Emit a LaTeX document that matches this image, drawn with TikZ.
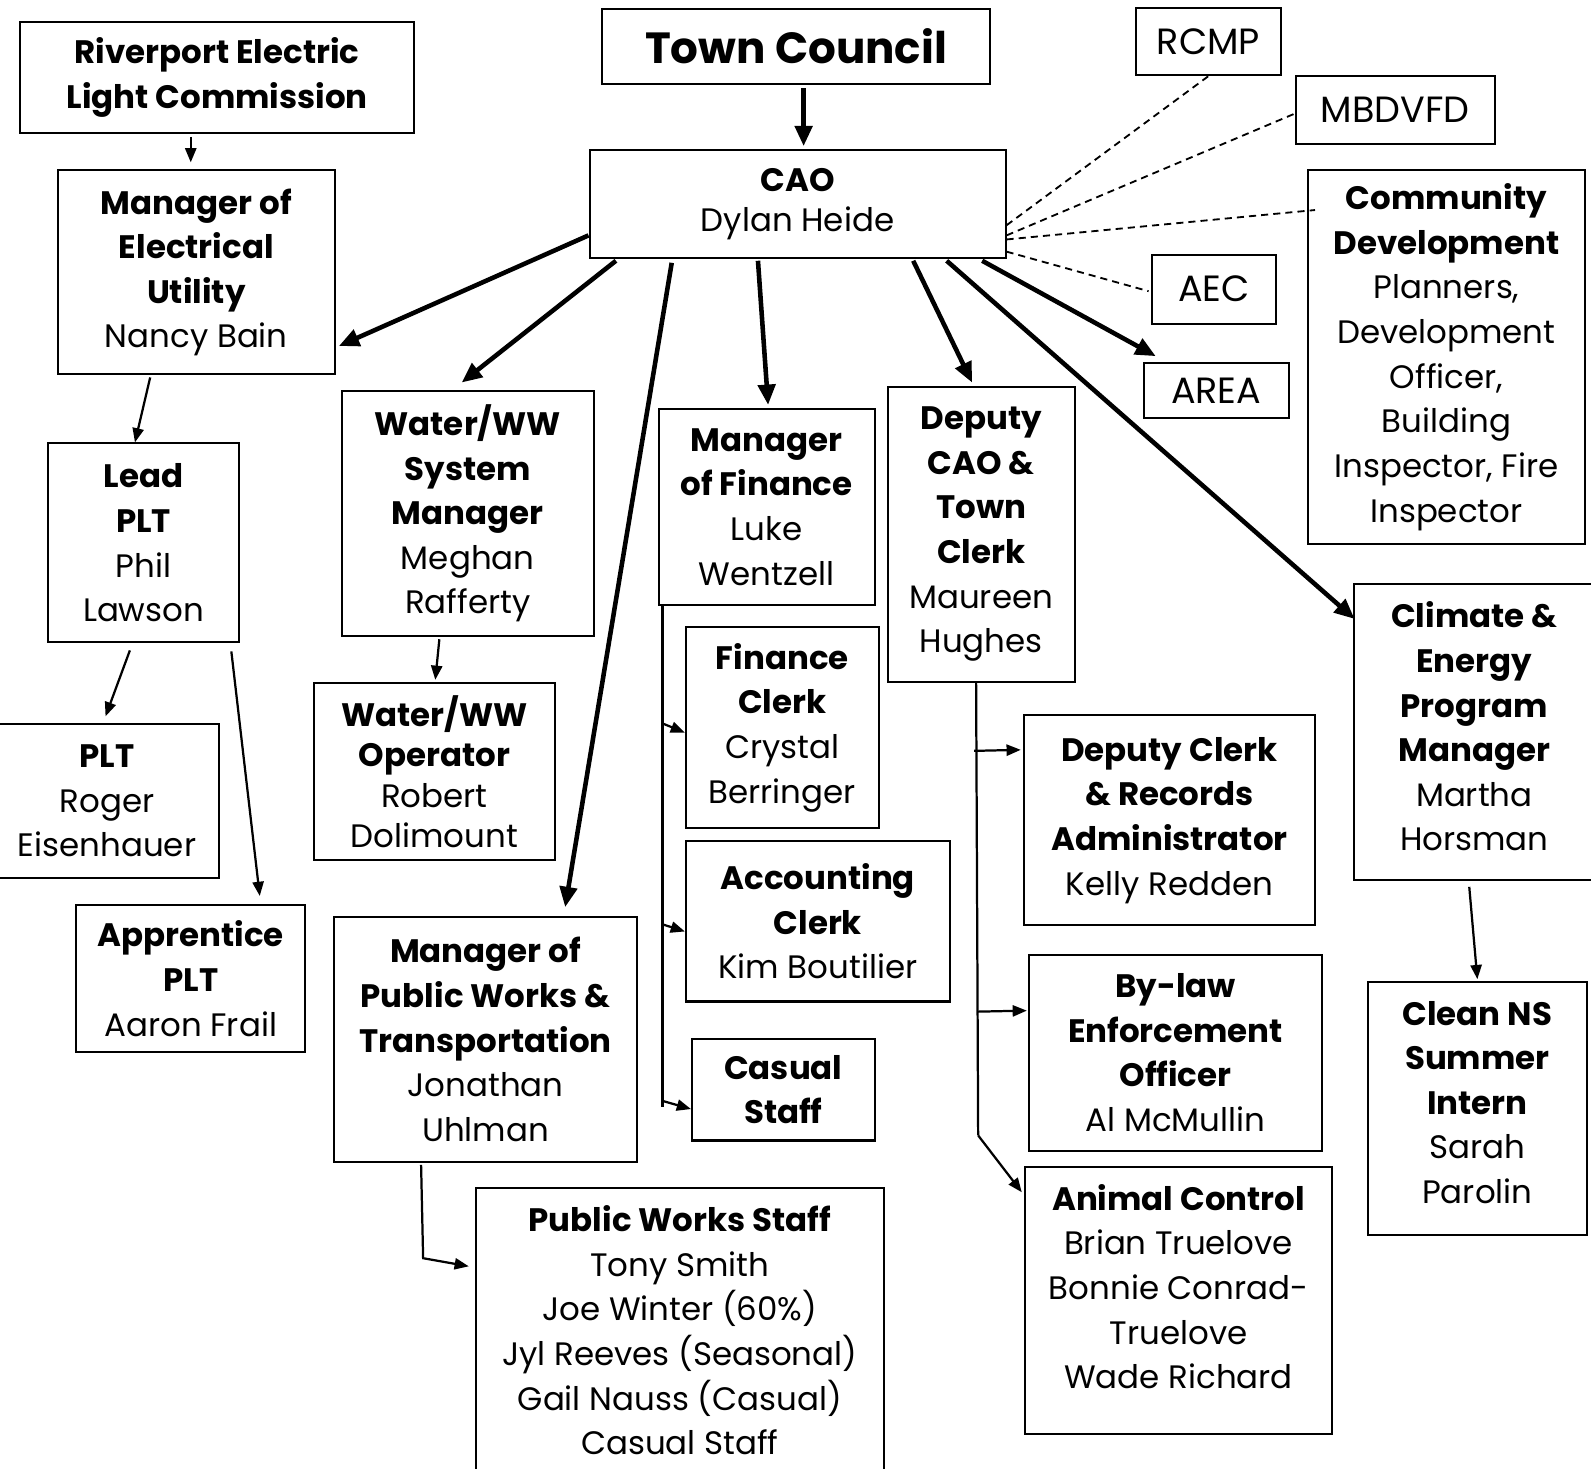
\documentclass[tikz,border=0pt]{standalone}
\usepackage{fontspec}
\setmainfont{Poppins}
\usetikzlibrary{arrows.meta,calc}
\begin{document}
\begin{tikzpicture}[x=1pt,y=-1pt,
  box/.style={draw,line width=2pt,align=center,inner sep=0pt,font=\fontsize{32}{44}\selectfont},
  txt/.style={align=center,inner sep=0pt,font=\fontsize{32}{44}\selectfont},
  small/.style={font=\fontsize{36}{44}\selectfont},
  thickarrow/.style={line width=4.5pt,-{Triangle[length=20pt,width=17pt]}},
  thinarrow/.style={line width=2.2pt,-{Triangle[length=14pt,width=11pt]}},
  thinline/.style={line width=2.2pt},
  dashline/.style={line width=1.8pt,dash pattern=on 7pt off 5pt}]
\useasboundingbox (0,0) rectangle (1568,1447);
% boxes
\node[box,minimum width=388,minimum height=109] (rec) at (214,76.5) {\textbf{Riverport Electric}\\\textbf{Light Commission}};
\node[box,minimum width=383,minimum height=74,font=\fontsize{43}{48}\selectfont] (tc) at (784.5,46) {\textbf{Town Council}};
\node[box,small,minimum width=142,minimum height=66] (rcmp) at (1191,41) {RCMP};
\node[box,small,minimum width=196,minimum height=67] (mbd) at (1375,108.5) {MBDVFD};
\node[box,minimum width=410,minimum height=106,font=\fontsize{32}{39}\selectfont] (cao) at (786,201) {\textbf{CAO}\\Dylan Heide};
\node[box,minimum width=273,minimum height=368] (cd) at (1425.5,352) {\textbf{Community}\\\textbf{Development}\\Planners,\\Development\\Officer,\\Building\\Inspector, Fire\\Inspector};
\node[box,small,minimum width=123,minimum height=68] (aec) at (1196.5,285) {AEC};
\node[box,small,minimum width=143,minimum height=54] (area) at (1198.5,385) {AREA};
\node[box,minimum width=273,minimum height=201] (meu) at (193.5,268.5) {\textbf{Manager of}\\\textbf{Electrical}\\\textbf{Utility}\\Nancy Bain};
\node[box,minimum width=248,minimum height=242] (wsm) at (461,506) {\textbf{Water/WW}\\\textbf{System}\\\textbf{Manager}\\Meghan\\Rafferty};
\node[box,minimum width=213,minimum height=193] (mf) at (755.5,499.5) {\textbf{Manager}\\\textbf{of Finance}\\Luke\\Wentzell};
\node[box,minimum width=184,minimum height=291] (dcao) at (967,526.5) {\textbf{Deputy}\\\textbf{CAO \&}\\\textbf{Town}\\\textbf{Clerk}\\Maureen\\Hughes};
\node[box,minimum width=189,minimum height=196] (lead) at (141.5,535) {\textbf{Lead}\\\textbf{PLT}\\Phil\\Lawson};
\node[box,minimum width=221,minimum height=151] (plt) at (105.5,789.5) {\textbf{PLT}\\Roger\\Eisenhauer};
\node[box,minimum width=226,minimum height=145] (app) at (188,964.5) {\textbf{Apprentice}\\\textbf{PLT}\\Aaron Frail};
\node[box,minimum width=238,minimum height=175,font=\fontsize{32}{40}\selectfont] (wop) at (428,760.5) {\textbf{Water/WW}\\\textbf{Operator}\\Robert\\Dolimount};
\node[box,minimum width=190,minimum height=198] (fc) at (771,717) {\textbf{Finance}\\\textbf{Clerk}\\Crystal\\Berringer};
\node[box,minimum width=260,minimum height=158] (ac) at (806,908) {\textbf{Accounting}\\\textbf{Clerk}\\Kim Boutilier};
\node[box,minimum width=180,minimum height=100] (cs) at (772,1074) {\textbf{Casual}\\\textbf{Staff}};
\node[box,minimum width=299,minimum height=241] (mpw) at (478.5,1024.5) {\textbf{Manager of}\\\textbf{Public Works \&}\\\textbf{Transportation}\\Jonathan\\Uhlman};
\node[box,minimum width=402,minimum height=299] (pws) at (670,1320.5) {};
\node[txt] (pwst) at (670,1311) {\textbf{Public Works Staff}\\Tony Smith\\Joe Winter (60\%)\\Jyl Reeves (Seasonal)\\Gail Nauss (Casual)\\Casual Staff};
\node[box,minimum width=287,minimum height=207] (dcr) at (1152.5,808.5) {\textbf{Deputy Clerk}\\\textbf{\& Records}\\\textbf{Administrator}\\Kelly Redden};
\node[box,minimum width=289,minimum height=193] (bl) at (1158.5,1037.5) {\textbf{By-law}\\\textbf{Enforcement}\\\textbf{Officer}\\Al McMullin};
\node[box,minimum width=303,minimum height=263] (anc) at (1161.5,1281.5) {};
\node[txt] (anct) at (1161.5,1268) {\textbf{Animal Control}\\Brian Truelove\\Bonnie Conrad-\\Truelove\\Wade Richard};
\node[box,minimum width=241,minimum height=291] (cl) at (1454.5,721.5) {};
\node[txt] (clt) at (1453,716) {\textbf{Climate \&}\\\textbf{Energy}\\\textbf{Program}\\\textbf{Manager}\\Martha\\Horsman};
\node[box,minimum width=216,minimum height=249] (cns) at (1456,1092.5) {};
\node[txt] (cnst) at (1456,1086.5) {\textbf{Clean NS}\\\textbf{Summer}\\\textbf{Intern}\\Sarah\\Parolin};
% thick arrows
\draw[thickarrow] ([xshift=7.5,yshift=-3]tc.south) -- ([xshift=6,yshift=3]cao.north);
\draw[thickarrow] ([yshift=-31]cao.west) -- ([xshift=3,yshift=-72.5]meu.east);
\draw[thickarrow] ([xshift=27,yshift=-2]cao.south west) -- ([xshift=-6,yshift=7]wsm.north);
\draw[thickarrow] ([xshift=82,yshift=-4]cao.south west) -- ([xshift=78.5,yshift=9]mpw.north);
\draw[thickarrow] ([xshift=167,yshift=-2]cao.south west) -- ([xshift=1.5,yshift=3]mf.north);
\draw[thickarrow] ([xshift=320,yshift=-2]cao.south west) -- ([xshift=-9,yshift=3]dcao.north);
\draw[thickarrow] ([xshift=353,yshift=-2]cao.south west) -- ([xshift=2,yshift=-35]cl.north west);
\draw[thickarrow] ([xshift=388,yshift=-2]cao.south west) -- ([xshift=13,yshift=6]area.north west);
% dashed
\draw[dashline] ([yshift=-21]cao.east) -- (rcmp.south);
\draw[dashline] ([yshift=-31]cao.east) -- ([yshift=-3.5]mbd.west);
\draw[dashline] ([yshift=-35]cao.east) -- ([xshift=8,yshift=145]cd.west);
\draw[dashline] ([yshift=-47]cao.east) -- ([xshift=-2,yshift=-2]aec.west);
% thin arrows
\draw[thinarrow] ([xshift=-26,yshift=-3]rec.south) -- ([xshift=-5.5,yshift=7]meu.north);
\draw[thinarrow] ([xshift=-45.5,yshift=-2]meu.south) -- ([xshift=-8.5]lead.north);
\draw[thinarrow] ([xshift=-13.5,yshift=-7]lead.south) -- ([xshift=-1.5,yshift=7]plt.north);
\draw[thinarrow] ([xshift=-9,yshift=-8]lead.south east) -- ([xshift=68,yshift=8]app.north);
\draw[thinarrow] ([xshift=-28,yshift=-2]wsm.south) -- ([xshift=1,yshift=2]wop.north);
\draw[thinarrow] ([xshift=-6.5,yshift=-6]cl.south) -- ([yshift=2]cns.north);
% finance trunk
\coordinate (ft) at ([xshift=5]mf.south west);
\draw[thinline] (ft) -- ++(0,494);
\draw[thinarrow] ($(ft)+(0,116)$) -- ([yshift=-5]fc.west);
\draw[thinarrow] ($(ft)+(0,314)$) -- ([yshift=-10]ac.west);
\draw[thinarrow] ($(ft)+(0,488)$) -- ([yshift=-19]cs.west);
% deputy trunk
\coordinate (dt) at ([xshift=-5]dcao.south);
\coordinate (db) at ($(dt)+(2,446)$);
\draw[thinline] (dt) -- (db);
\draw[thinarrow] (db) -- ([xshift=-2,yshift=-26]anc.north west);
\draw[thinarrow] ($(dt)+(-2,67)$) -- ([xshift=-2,yshift=69.5]dcr.west);
\draw[thinarrow] ($(dt)+(2,324)$) -- ([xshift=-1,yshift=41.5]bl.west);
% public works
\coordinate (pt) at ([xshift=87,yshift=-2]mpw.south west);
\draw[thinarrow] (pt) -- ($(pt)+(2,92)$) -- ([xshift=-6,yshift=72.5]pws.west);
\end{tikzpicture}
\end{document}
